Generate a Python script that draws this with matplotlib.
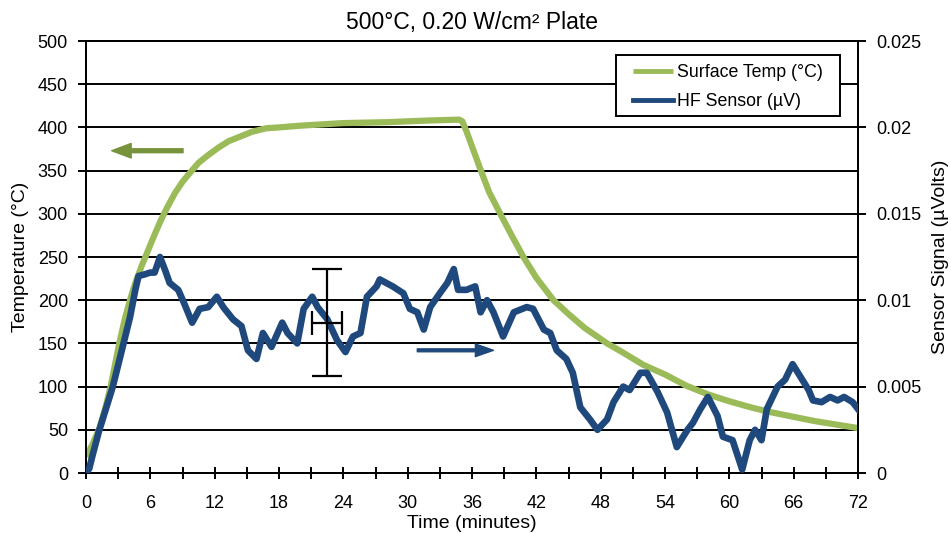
import numpy as np
import matplotlib
matplotlib.use('Agg')
import matplotlib.pyplot as plt
from matplotlib.patches import Rectangle
from matplotlib.ticker import FuncFormatter, MultipleLocator

plt.rcParams['font.family'] = ['Liberation Sans', 'DejaVu Sans']

# Surface temperature (°C) vs time (minutes)
temp_t = [0, 0.6, 1.2, 1.8, 2.3, 2.7, 3.1, 3.6, 4.1, 4.6, 5.2, 5.8, 6.4, 7.0,
          7.6, 8.3, 9.0, 9.8, 10.5, 11.4, 12.4, 13.3, 14.3, 15.5, 16.8, 18,
          20, 24, 28, 32, 34.8, 35.1, 35.5, 36, 36.8, 37.6, 38.6, 39.7,
          40.8, 42, 43.6, 45, 46.5, 48.6, 50, 52, 54, 56, 58, 60, 62, 64, 66,
          68, 70, 72]
temp_v = [19, 33, 50, 75, 100, 125, 150, 177, 200, 220, 240, 258, 276, 293,
          308, 324, 337, 349, 359, 368, 377, 384, 389, 395, 399, 400,
          402, 405, 406, 408, 409, 407, 395, 378, 351, 325, 301, 275,
          250, 226, 200, 184, 168, 150, 140, 125, 114, 101, 91, 83, 76, 70, 65,
          60, 56, 52]

# HF sensor signal (µV) vs time (minutes)
hf_t = [0.0, 0.3, 0.6, 1.2, 2.5, 3.5, 4.1, 4.6, 4.9, 5.5, 6.0, 6.4, 6.9, 7.4,
        7.8, 8.6, 9.1, 9.9, 10.6, 11.4, 12.2, 12.8, 13.7, 14.5, 15.1, 15.9,
        16.5, 17.3, 18.3, 18.8, 19.7, 20.3, 21.1, 21.6, 22.5, 23.4, 24.2, 24.9,
        25.6, 26.2, 27.1, 27.4, 28.6, 29.6, 30.2, 30.9, 31.5, 32.1, 33.0, 33.7,
        34.3, 34.7, 35.5, 36.3, 36.8, 37.4, 38.0, 38.9, 39.9, 41.1, 41.7, 42.7,
        43.3, 43.9, 44.8, 45.4, 46.1, 47.0, 47.7, 48.6, 49.2, 50.1, 50.7, 51.7,
        52.3, 53.3, 54.2, 55.1, 56.1, 56.6, 57.3, 58.0, 58.9, 59.4, 60.3, 61.2,
        61.9, 62.4, 63.0, 63.5, 64.5, 65.2, 65.9, 66.6, 67.4, 67.8, 68.6, 69.4,
        70.1, 70.7, 71.5, 72.0]
hf_v = [0.0000, 0.00025, 0.0010, 0.0024, 0.0050, 0.0075, 0.0090, 0.0106,
        0.0114, 0.0115, 0.0116, 0.0116, 0.0125, 0.0117, 0.0110, 0.0106, 0.0099,
        0.0087, 0.0095, 0.0096, 0.0102, 0.0096, 0.0089, 0.0085, 0.0071, 0.0066,
        0.0081, 0.0073, 0.0087, 0.0081, 0.0075, 0.0095, 0.0102, 0.0096, 0.0089,
        0.0077, 0.0070, 0.0079, 0.0081, 0.0102, 0.0108, 0.0112, 0.0108, 0.0104,
        0.0095, 0.0093, 0.0083, 0.0096, 0.0104, 0.0110, 0.0118, 0.0106, 0.0106,
        0.0108, 0.0093, 0.0100, 0.0093, 0.0079, 0.0093, 0.0096, 0.0095, 0.0083,
        0.0081, 0.0071, 0.0066, 0.0058, 0.0038, 0.0031, 0.0025, 0.0031, 0.0041,
        0.0050, 0.0048, 0.0058, 0.0058, 0.0047, 0.0035, 0.0015, 0.0025, 0.0029,
        0.0037, 0.0044, 0.0033, 0.0021, 0.0019, 0.0002, 0.0019, 0.0025, 0.0019,
        0.0037, 0.0050, 0.0054, 0.0063, 0.0056, 0.0048, 0.0042, 0.0041, 0.0044,
        0.0042, 0.0044, 0.0041, 0.0037]

# error bar on sensor signal
err_t, err_v = 22.5, 0.0087
err_dt, err_dv = 1.4, 0.0031

green = '#9BBB59'
blue = '#1F497D'

W, H = 951, 533
fig = plt.figure(figsize=(W/100, H/100), dpi=100)
ax1 = fig.add_axes([86/W, 1-473/H, 772/W, 432/H])
ax2 = ax1.twinx()

ax1.set_xlim(0, 72)
ax1.set_ylim(0, 500)
ax2.set_ylim(0, 0.025)

ax1.yaxis.set_major_locator(MultipleLocator(50))
ax1.xaxis.set_major_locator(MultipleLocator(6))
ax1.xaxis.set_minor_locator(MultipleLocator(3))
ax2.yaxis.set_major_locator(MultipleLocator(0.005))
ax2.yaxis.set_major_formatter(FuncFormatter(lambda v, p: f'{v:g}'))

ax1.grid(axis='y', color='black', lw=1.4)
ax1.set_axisbelow(True)

ln1, = ax1.plot(temp_t, temp_v, color=green, lw=4.5, solid_capstyle='butt',
                solid_joinstyle='round', label='Surface Temp (°C)', zorder=3)
ln2, = ax2.plot(hf_t, hf_v, color=blue, lw=4.8, solid_joinstyle='round',
                label='HF Sensor (µV)', zorder=3)

ax2.errorbar(err_t, err_v, yerr=err_dv, color='black', lw=1.6, capsize=11,
             capthick=1.6, zorder=4)
ax2.errorbar(err_t, err_v, xerr=err_dt, color='black', lw=1.6, capsize=8.5,
             capthick=1.6, zorder=4)

# direction arrows
ax1.annotate('', xy=(2.4, 373), xytext=(9.05, 373),
             arrowprops=dict(arrowstyle='simple,head_length=1.0,head_width=0.75,tail_width=0.2',
                             color='#77933C', mutation_scale=14, shrinkA=0, shrinkB=0))
ax2.annotate('', xy=(38.0, 0.0071), xytext=(30.9, 0.0071),
             arrowprops=dict(arrowstyle='simple,head_length=1.0,head_width=0.7,tail_width=0.16',
                             color=blue, mutation_scale=13, shrinkA=0, shrinkB=0))

for s in ['left', 'right', 'bottom', 'top']:
    ax1.spines[s].set_linewidth(1.4)
    ax2.spines[s].set_linewidth(1.4)

ax1.tick_params(axis='x', which='both', direction='inout', length=8, width=1.4,
                labelsize=13, pad=12)
ax1.tick_params(axis='y', direction='out', length=6, width=1.4, labelsize=13, pad=7)
ax2.tick_params(axis='y', direction='out', length=6, width=1.4, labelsize=13, pad=7)

ax1.set_xlabel('Time (minutes)', fontsize=14, labelpad=2)
ax1.set_ylabel('Temperature (°C)', fontsize=14, labelpad=6)
ax2.set_ylabel('Sensor Signal (µVolts)', fontsize=14, labelpad=8)
ax1.set_title('500°C, 0.20 W/cm² Plate', fontsize=16.5, pad=9)

# legend box drawn separately so the padding matches
box = Rectangle((616/W, 1-116/H), 224/W, 61/H, transform=fig.transFigure,
                facecolor='white', edgecolor='black', lw=1.4, zorder=9,
                clip_on=False)
ax1.add_patch(box)
leg = ax1.legend(handles=[ln1, ln2], loc='upper left',
                 bbox_to_anchor=(633/W, 1-64/H), bbox_transform=fig.transFigure,
                 fontsize=12.8, frameon=False, handlelength=2.25,
                 handletextpad=0.22, borderpad=0, labelspacing=0.68,
                 borderaxespad=0)
leg.set_zorder(10)
for l in leg.get_lines():
    l.set_linewidth(3.5)

fig.savefig('out.png', dpi=100)
